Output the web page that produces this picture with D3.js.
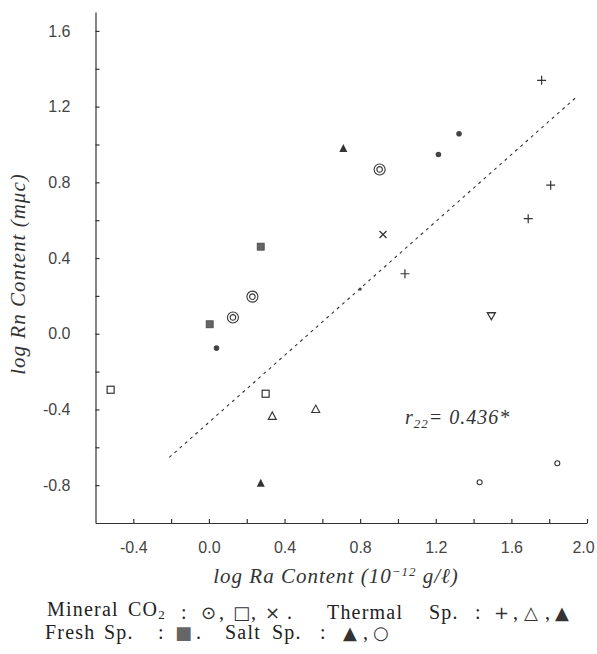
<!DOCTYPE html>
<html>
<head>
<meta charset="utf-8">
<script src="https://cdn.jsdelivr.net/npm/d3@7"></script>
<style>
  body { margin: 0; background: #fff; }
  svg { display: block; }
  .axis path, .axis line { stroke: #333; stroke-width: 1.2; }
  .axis text { font-family: "Liberation Sans Narrow", "Liberation Sans", sans-serif; font-size: 16px; fill: #444; }
  .title { font-family: "Liberation Serif", serif; font-style: italic; font-size: 21px; fill: #333; letter-spacing: 1px; }
  .legend { font-family: "Liberation Serif", "DejaVu Serif", serif; font-size: 20px; fill: #222; letter-spacing: 1.2px; }
  .sym { font-family: "DejaVu Sans", sans-serif; font-size: 18px; fill: #333; letter-spacing: 0; }
</style>
</head>
<body>
<svg id="chart" width="597" height="654"></svg>
<script>
// points, [log Ra, log Rn]
var co2Circle = [[0.127, 0.086], [0.23, 0.196], [0.903, 0.868]];
var co2Square = [[-0.52, -0.296], [0.30, -0.317]];
var co2Cross = [[0.921, 0.524]];
var thermalPlus = [[1.037, 0.317], [1.689, 0.608], [1.808, 0.785], [1.76, 1.339]];
var thermalTri = [[0.335, -0.434], [0.565, -0.398]];
var thermalTriDown = [[1.494, 0.095]];
var thermalTriFill = [[0.711, 0.979]];
var saltTriFill = [[0.274, -0.79]];
var saltCircle = [[1.432, -0.785], [1.843, -0.684]];
var freshSquare = [[0.004, 0.05], [0.274, 0.46]];
var dots = [[0.04, -0.076], [1.214, 0.947], [1.323, 1.057]];
var lineDot = [[0.80, 0.236]];

// regression line y = a*x + b
var regSlope = 0.884;
var regIntercept = -0.468;
var regX = [-0.21, 1.945];

var xTicks = [-0.4, -0.2, 0.0, 0.2, 0.4, 0.6, 0.8, 1.0, 1.2, 1.4, 1.6, 1.8, 2.0];
var yTicks = [-0.8, -0.6, -0.4, -0.2, 0.0, 0.2, 0.4, 0.6, 0.8, 1.0, 1.2, 1.4, 1.6];
var labelEvery = [-0.8, -0.4, 0.0, 0.4, 0.8, 1.2, 1.6, 2.0];

// legend rows: [text, x, kind]
var legendRow1 = [["Mineral", 47, "t"], ["CO", 128, "t"], ["2", 0, "sub"], [":", 181, "t"], ["\u2299", 201, "s"],
                  [",", 219, "t"], ["\u25a1", 233, "s"], [",", 251, "t"], ["\u00d7", 265, "s"], [".", 287, "t"],
                  ["Thermal", 327, "t"], ["Sp.", 429, "t"], [":", 475, "t"], ["+", 494, "s"], [",", 513, "t"],
                  ["\u25b3", 524, "s"], [",", 545, "t"], ["\u25b2", 555, "s"]];
var legendRow2 = [["Fresh", 45, "t"], ["Sp.", 104, "t"], [":", 158, "t"], ["\u25a0", 175, "f"], [".", 196, "t"],
                  ["Salt", 225, "t"], ["Sp.", 272, "t"], [":", 320, "t"], ["\u25b2", 343, "s"], [",", 363, "t"],
                  ["\u25cb", 373, "s"]];

var svg = d3.select("#chart");

var xScale = d3.scaleLinear().domain([-0.6, 2.0]).range([95.5, 587]);
var yScale = d3.scaleLinear().domain([-1.0, 1.7]).range([523, 12]);

function fmt(d) {
    for (var i = 0; i < labelEvery.length; i++) {
        if (Math.abs(labelEvery[i] - d) < 1e-6) return d3.format(".1f")(d).replace("\u2212", "-");
    }
    return "";
}

var xAxis = d3.axisBottom(xScale).tickValues(xTicks).tickSizeInner(-4).tickSizeOuter(0)
              .tickPadding(19).tickFormat(fmt);
var yAxis = d3.axisLeft(yScale).tickValues(yTicks).tickSizeInner(-4).tickSizeOuter(0)
              .tickPadding(25).tickFormat(fmt);

var gx = svg.append("g")
   .attr("class", "axis")
   .attr("transform", "translate(0," + yScale(-1.0) + ")")
   .call(xAxis);

// keep the last label inside the page
gx.selectAll(".tick text")
  .filter(function(d) { return d == 2.0; })
  .attr("dx", -4);

svg.append("g")
   .attr("class", "axis")
   .attr("transform", "translate(" + xScale(-0.6) + ",0)")
   .call(yAxis);

// dashed regression line
svg.append("line")
   .attr("x1", xScale(regX[0]))
   .attr("y1", yScale(regSlope * regX[0] + regIntercept))
   .attr("x2", xScale(regX[1]))
   .attr("y2", yScale(regSlope * regX[1] + regIntercept))
   .attr("stroke", "#333")
   .attr("stroke-width", 1.1)
   .attr("stroke-dasharray", "3,4");

var ink = "#333";

function place(data) {
    return svg.append("g").selectAll("g")
              .data(data)
              .enter()
              .append("g")
              .attr("transform", function(d) {
                  return "translate(" + xScale(d[0]) + "," + yScale(d[1]) + ")";
              });
}

// double circles
var dc = place(co2Circle);
dc.append("circle").attr("r", 5.5).attr("fill", "none").attr("stroke", ink).attr("stroke-width", 1.1);
dc.append("circle").attr("r", 2.8).attr("fill", "none").attr("stroke", ink).attr("stroke-width", 1.1);

// open squares
place(co2Square).append("rect")
   .attr("x", -3.5).attr("y", -3.5).attr("width", 7).attr("height", 7)
   .attr("fill", "none").attr("stroke", ink).attr("stroke-width", 1.2);

// crosses
place(co2Cross).append("path")
   .attr("d", "M-3.5,-3.5L3.5,3.5M-3.5,3.5L3.5,-3.5")
   .attr("stroke", ink).attr("stroke-width", 1.3);

// plus
place(thermalPlus).append("path")
   .attr("d", "M-4.5,0L4.5,0M0,-4.5L0,4.5")
   .attr("stroke", ink).attr("stroke-width", 1.2);

// open triangles
place(thermalTri).append("path")
   .attr("d", "M0,-4L4,3.5L-4,3.5Z")
   .attr("fill", "none").attr("stroke", ink).attr("stroke-width", 1.1);

place(thermalTriDown).append("path")
   .attr("d", "M-4,-3L4,-3L0,4Z")
   .attr("fill", "none").attr("stroke", ink).attr("stroke-width", 1.3);

// filled triangles
place(thermalTriFill.concat(saltTriFill)).append("path")
   .attr("d", "M0,-4.5L4,3.5L-4,3.5Z")
   .attr("fill", "#333");

// small open circles
place(saltCircle).append("circle")
   .attr("r", 2.5).attr("fill", "none").attr("stroke", ink).attr("stroke-width", 1.1);

// fresh spring squares
place(freshSquare).append("rect")
   .attr("x", -3.5).attr("y", -3.5).attr("width", 7).attr("height", 7)
   .attr("fill", "#666").attr("stroke", "#444").attr("stroke-width", 0.8);

// filled dots
place(dots).append("circle").attr("r", 2.8).attr("fill", "#444");
place(lineDot).append("circle").attr("r", 1.6).attr("fill", "#444");

// correlation coefficient
var rt = svg.append("text").attr("class", "title").attr("x", 405).attr("y", 424).style("font-size", "20px");
rt.append("tspan").text("r");
rt.append("tspan").attr("dy", 4).style("font-size", "13px").text("22");
rt.append("tspan").attr("dy", -4).text("= 0.436*");

// axis titles
var xt = svg.append("text").attr("class", "title").attr("x", 336).attr("y", 583).attr("text-anchor", "middle");
xt.append("tspan").text("log Ra Content (10");
xt.append("tspan").attr("dy", -7).style("font-size", "13px").text("\u221212");
xt.append("tspan").attr("dy", 7).text(" g/\u2113)");

svg.append("text").attr("class", "title")
   .attr("transform", "translate(25,274) rotate(-90)")
   .attr("text-anchor", "middle")
   .text("log Rn Content (m\u03bcc)");

// legend
function legendRow(row, y) {
    var t = svg.append("text").attr("class", "legend").attr("y", y);
    row.forEach(function(item) {
        var sp = t.append("tspan").text(item[0]);
        if (item[2] == "sub") {
            sp.attr("dy", 3).style("font-size", "13px");
            t.append("tspan").attr("dy", -3).text("");
            return;
        }
        sp.attr("x", item[1]);
        if (item[2] == "s") sp.attr("class", "sym");
        if (item[2] == "f") sp.attr("class", "sym").style("fill", "#666");
    });
}
legendRow(legendRow1, 616);
legendRow(legendRow2, 639);
</script>
</body>
</html>
